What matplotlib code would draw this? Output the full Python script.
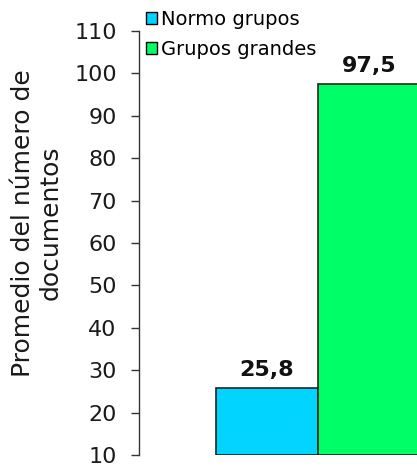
import numpy as np
import matplotlib
matplotlib.use('Agg')
import matplotlib.pyplot as plt
from matplotlib.patches import Patch

groups = ['Normo grupos', 'Grupos grandes']
values = [25.8, 97.5]
labels = ['25,8', '97,5']
colors = ['#00D4FF', '#00FF66']
yticks = np.arange(10, 111, 10)

fig = plt.figure(figsize=(4.17, 4.68), dpi=100)
ax = fig.add_axes([139/417, 13/468, 278/417, 424/468])

x = np.arange(len(values))
base = 10
ax.bar(x, np.array(values) - base, bottom=base, width=1.0, color=colors,
       edgecolor='#222222', linewidth=1.2)

# value labels above the bars
for xi, v, lab in zip(x, values, labels):
    ax.text(xi, v + 1.9, lab, ha='center', va='bottom', fontsize=16,
            fontweight='bold', color='#111111')

ax.set_ylim(10, 110)
ax.set_xlim(-1.255, 1.47)
ax.set_yticks(yticks)
ax.set_yticklabels([str(t) for t in yticks], fontsize=16, color='#1a1a1a')
ax.tick_params(axis='y', length=6, width=1, pad=10, color='#333333')
ax.set_xticks([])
for s in ['top', 'right', 'bottom']:
    ax.spines[s].set_visible(False)
ax.spines['left'].set_color('#333333')
ax.spines['left'].set_linewidth(1)

fig.text(37/417, 1 - 223/468, 'Promedio del número de\ndocumentos',
         rotation=90, ha='center', va='center', multialignment='center',
         fontsize=18, color='#1a1a1a')

handles = [Patch(facecolor=c, edgecolor='black', linewidth=1) for c in colors]
fig.legend(handles, groups, loc='upper left',
           bbox_to_anchor=(146/417, 1 - 10/468),
           frameon=False, fontsize=14, handlelength=0.55, handleheight=0.55,
           handletextpad=0.2, labelspacing=0.55, borderaxespad=0,
           borderpad=0)

fig.savefig('out.png', dpi=100)
